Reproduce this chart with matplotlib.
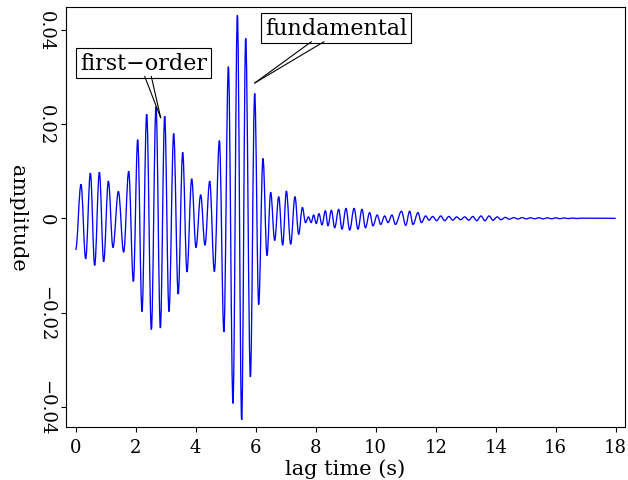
import numpy as np
import matplotlib
matplotlib.use("Agg")
import matplotlib.pyplot as plt
from matplotlib.path import Path
from matplotlib.patches import PathPatch

# Extrema of the waveform (time in s, amplitude)
ext_time = [
    0.000, 0.177, 0.333, 0.490, 0.633, 0.790, 0.933, 1.090, 1.243, 1.423,
    1.600, 1.767, 1.923, 2.067, 2.210, 2.367, 2.523, 2.677, 2.823, 2.967,
    3.110, 3.267, 3.417, 3.567, 3.710, 3.867, 4.010, 4.167, 4.310, 4.467,
    4.623, 4.790, 4.940, 5.090, 5.243, 5.390, 5.533, 5.667, 5.823, 5.967,
    6.100, 6.243, 6.377, 6.500, 6.633, 6.767, 6.900, 7.023, 7.167, 7.310,
    7.433, 7.557, 7.660, 7.760, 7.850, 7.930, 8.020, 8.110, 8.210, 8.323,
    8.410, 8.523, 8.633, 8.767, 8.877, 9.010, 9.133, 9.280, 9.410, 9.543,
    9.657, 9.800, 9.910, 10.050, 10.167, 10.300, 10.410, 10.543, 10.657, 10.860,
    11.000, 11.133, 11.243, 11.410, 11.523, 11.667, 11.777, 11.900, 12.030, 12.170,
    12.300, 12.440, 12.570, 12.700, 12.830, 12.970, 13.100, 13.240, 13.370, 13.510,
    13.640, 13.780, 13.910, 14.050, 14.180, 14.320, 14.450, 14.600, 14.740, 14.880,
    15.020, 15.160, 15.300, 15.440, 15.580, 15.720, 15.860, 16.000, 16.140, 16.280,
    16.420, 16.560, 16.700, 16.840, 18.000,
]
ext_amp = [
    -0.0067, 0.0072, -0.0086, 0.0096, -0.0100, 0.0098, -0.0092, 0.0079, -0.0062, 0.0057,
    -0.0072, 0.0100, -0.0134, 0.0167, -0.0198, 0.0221, -0.0236, 0.0237, -0.0233, 0.0217,
    -0.0198, 0.0180, -0.0161, 0.0140, -0.0114, 0.0084, -0.0062, 0.0050, -0.0057, 0.0079,
    -0.0113, 0.0165, -0.0241, 0.0322, -0.0393, 0.0431, -0.0428, 0.0382, -0.0337, 0.0265,
    -0.0183, 0.0127, -0.0079, 0.0055, -0.0047, 0.0046, -0.0057, 0.0058, -0.0055, 0.0046,
    -0.0034, 0.0023, -0.0009, 0.0003, -0.0009, 0.0007, -0.0011, 0.0010, -0.0014, 0.0016,
    -0.0016, 0.0017, -0.0020, 0.0019, -0.0023, 0.0021, -0.0025, 0.0021, -0.0023, 0.0019,
    -0.0020, 0.0012, -0.0016, 0.0007, -0.0013, 0.0005, -0.0009, 0.0007, -0.0013, 0.0015,
    -0.0015, 0.0015, -0.0013, 0.0012, -0.0009, 0.0005, -0.0004, 0.0004, -0.0005, 0.0005,
    -0.0005, 0.0004, -0.0004, 0.0003, -0.0003, 0.0003, -0.0004, 0.0004, -0.0005, 0.0005,
    -0.0005, 0.0005, -0.0004, 0.0003, -0.0003, 0.0002, -0.0002, 0.00015, -0.00015, 0.00015,
    -0.00012, 0.00012, -0.0001, 0.00012, -0.00012, 0.0001, -0.0001, 0.0001, -0.00008, 0.00008,
    -0.00006, 0.00006, -0.00004, 0.00003, 0.0,
]

x_ticks = [0, 2, 4, 6, 8, 10, 12, 14, 16, 18]
y_ticks = [-0.04, -0.02, 0.0, 0.02, 0.04]
y_tick_labels = ["\u22120.04", "\u22120.02", "0", "0.02", "0.04"]

plt.rcParams['font.family'] = ['DejaVu Serif']

fig = plt.figure(figsize=(6.28, 4.81), dpi=100)
ax = fig.add_axes([0.1046, 0.1096, 0.8911, 0.8731])

# Smooth curve through extrema using cubic Bezier segments (horizontal tangents at extrema)
k = 0.3634
verts = [(ext_time[0], ext_amp[0])]
codes = [Path.MOVETO]
for i in range(len(ext_time) - 1):
    t0, t1 = ext_time[i], ext_time[i + 1]
    a0, a1 = ext_amp[i], ext_amp[i + 1]
    dt = t1 - t0
    verts += [(t0 + k * dt, a0), (t1 - k * dt, a1), (t1, a1)]
    codes += [Path.CURVE4] * 3
path = Path(verts, codes)
ax.add_patch(PathPatch(path, facecolor='none', edgecolor='#0000ff', lw=0.95))

ax.set_xlim(-0.333, 18.32)
ax.set_ylim(-0.04437, 0.0448)
ax.set_xticks(x_ticks)
ax.set_xticklabels([str(v) for v in x_ticks], fontsize=13)
ax.set_yticks(y_ticks)
ax.set_yticklabels(y_tick_labels, fontsize=13, rotation=270, va='center')
ax.tick_params(direction='out', length=3.6, width=0.8, pad=4)
for s in ax.spines.values():
    s.set_linewidth(0.8)

ax.set_xlabel('lag time (s)', fontsize=15, va='center')
ax.xaxis.set_label_coords(0.5, -0.098)
ax.set_ylabel('amplitude', fontsize=15, rotation=270, va='center', ha='center')
ax.yaxis.set_label_coords(-0.087, 0.5)

box = dict(boxstyle='square,pad=0.18', facecolor='white', edgecolor='black', lw=0.8)

# first-order annotation
ax.text(2.27, 0.0330, 'first\u2212order', fontsize=16, ha='center', va='center', bbox=box)
for xs in (2.30, 2.52):
    ax.annotate('', xy=(2.833, 0.02134), xytext=(xs, 0.03015),
                arrowprops=dict(arrowstyle='-', lw=0.8, color='black', shrinkA=0, shrinkB=0))

# fundamental annotation
ax.text(8.68, 0.0404, 'fundamental', fontsize=16, ha='center', va='center', bbox=box)
for xs in (7.857, 8.277):
    ax.annotate('', xy=(5.967, 0.02873), xytext=(xs, 0.0375),
                arrowprops=dict(arrowstyle='-', lw=0.8, color='black', shrinkA=0, shrinkB=0))

fig.savefig('out.png', dpi=100)
